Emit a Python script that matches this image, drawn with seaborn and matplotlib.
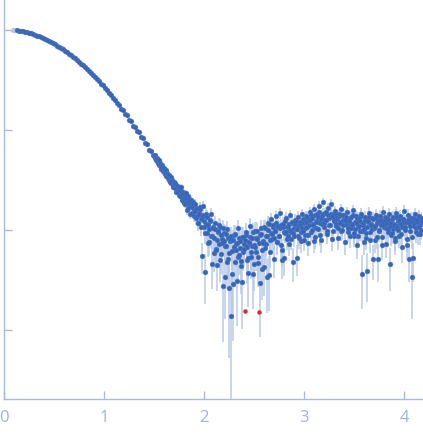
import numpy as np
import pandas as pd
import matplotlib
matplotlib.use("Agg")
import matplotlib.pyplot as plt
import seaborn as sns

# scattering curve, s in nm^-1, intensity stored as log10(I), errors in units of 1e-3

# first points, excluded (drawn pale)
s_excluded = [0.09, 0.11]
log_i_excluded = [0.003, 0.001]

# Guinier / smooth part
s_smooth = [0.13, 0.15, 0.17, 0.19, 0.21, 0.23, 0.25, 0.27, 0.29, 0.31,
            0.33, 0.35, 0.37, 0.39, 0.41, 0.43, 0.45, 0.47, 0.49, 0.51,
            0.53, 0.55, 0.57, 0.59, 0.61, 0.63, 0.65, 0.67, 0.69, 0.71,
            0.73, 0.75, 0.77, 0.79, 0.81, 0.83, 0.85, 0.87, 0.89, 0.91,
            0.93, 0.95, 0.97, 0.99, 1.01, 1.03, 1.05, 1.07, 1.09, 1.11,
            1.13, 1.15, 1.17, 1.19, 1.21, 1.23, 1.25, 1.27, 1.29, 1.31,
            1.33, 1.35, 1.37, 1.39, 1.41, 1.43, 1.45, 1.47, 1.49]
log_i_smooth = [-0.004, -0.006, -0.012, -0.014, -0.021, -0.024, -0.031, -0.035, -0.044, -0.049,
                -0.058, -0.064, -0.074, -0.081, -0.092, -0.100, -0.112, -0.120, -0.133, -0.143,
                -0.157, -0.167, -0.182, -0.193, -0.209, -0.221, -0.238, -0.251, -0.270, -0.283,
                -0.303, -0.316, -0.337, -0.351, -0.374, -0.388, -0.412, -0.427, -0.453, -0.468,
                -0.495, -0.510, -0.539, -0.555, -0.585, -0.600, -0.633, -0.649, -0.682, -0.698,
                -0.735, -0.749, -0.789, -0.801, -0.845, -0.855, -0.898, -0.912, -0.958, -0.970,
                -1.012, -1.024, -1.068, -1.085, -1.128, -1.142, -1.196, -1.208, -1.254]
err_smooth = [0.6, 0.6, 0.6, 0.6, 0.7, 0.7, 0.7, 0.7, 0.7, 0.7,
              0.8, 0.8, 0.8, 0.8, 0.8, 0.8, 0.8, 0.9, 0.9, 0.9,
              0.9, 0.9, 0.9, 0.9, 1.0, 1.0, 1.0, 1.0, 1.0, 1.0,
              1.0, 1.0, 1.1, 1.1, 1.1, 1.1, 1.1, 1.1, 1.1, 1.1,
              1.2, 1.2, 1.2, 1.2, 1.2, 1.2, 1.2, 1.2, 1.2, 1.2,
              1.3, 1.3, 1.3, 1.3, 1.3, 1.3, 1.3, 1.3, 1.3, 1.3,
              1.4, 1.4, 1.4, 1.4, 1.4, 1.4, 1.4, 1.4, 1.4]

# shoulder
s_shoulder = [1.50, 1.51, 1.52, 1.53, 1.54, 1.55, 1.56, 1.57, 1.58, 1.59,
              1.60, 1.61, 1.62, 1.63, 1.64, 1.65, 1.66, 1.67, 1.68, 1.69,
              1.70, 1.71, 1.72, 1.73, 1.74, 1.75, 1.76, 1.77, 1.78, 1.79,
              1.80, 1.81, 1.82, 1.83, 1.84, 1.85, 1.86, 1.87, 1.88, 1.89,
              1.505, 1.515, 1.525, 1.535, 1.545, 1.555, 1.565, 1.575, 1.585, 1.595,
              1.605, 1.615, 1.625, 1.635, 1.645, 1.655, 1.665, 1.675, 1.685, 1.695,
              1.705, 1.715, 1.725, 1.735, 1.745, 1.755, 1.765, 1.775, 1.785, 1.795,
              1.805, 1.815, 1.825, 1.835, 1.845, 1.855, 1.865, 1.875, 1.885, 1.895]
log_i_shoulder = [-1.26, -1.28, -1.29, -1.31, -1.32, -1.35, -1.35, -1.38, -1.37, -1.41,
                  -1.42, -1.41, -1.46, -1.44, -1.47, -1.50, -1.48, -1.53, -1.51, -1.56,
                  -1.54, -1.58, -1.55, -1.62, -1.59, -1.57, -1.66, -1.61, -1.70, -1.64,
                  -1.67, -1.74, -1.63, -1.72, -1.78, -1.69, -1.76, -1.71, -1.83, -1.74,
                  -1.25, -1.30, -1.28, -1.33, -1.30, -1.33, -1.39, -1.35, -1.40, -1.38,
                  -1.44, -1.40, -1.43, -1.48, -1.45, -1.52, -1.47, -1.50, -1.57, -1.52,
                  -1.53, -1.62, -1.56, -1.58, -1.65, -1.60, -1.57, -1.68, -1.62, -1.73,
                  -1.65, -1.69, -1.80, -1.66, -1.73, -1.84, -1.70, -1.77, -1.72, -1.86]
err_shoulder = [1.4, 1.5, 1.4, 1.5, 1.5, 1.4, 1.5, 1.5, 1.6, 1.5,
                1.5, 1.6, 1.5, 1.5, 1.6, 1.6, 1.5, 1.6, 1.6, 1.5,
                1.6, 1.6, 1.7, 1.6, 1.6, 1.7, 1.6, 1.7, 1.6, 1.7,
                1.7, 1.6, 1.7, 1.7, 1.6, 1.7, 1.7, 1.8, 1.7, 1.7,
                1.5, 1.4, 1.5, 1.5, 1.4, 1.5, 1.5, 1.5, 1.6, 1.5,
                1.6, 1.5, 1.6, 1.6, 1.5, 1.6, 1.6, 1.6, 1.5, 1.6,
                1.6, 1.7, 1.6, 1.6, 1.7, 1.6, 1.7, 1.6, 1.7, 1.7,
                1.7, 1.7, 1.6, 1.7, 1.8, 1.7, 1.7, 1.8, 1.7, 1.8]

# noisy tail, first frame
s_tail = [1.90, 1.91, 1.92, 1.93, 1.94, 1.95, 1.96, 1.97, 1.98, 1.99,
          2.00, 2.01, 2.02, 2.03, 2.04, 2.05, 2.06, 2.07, 2.08, 2.09,
          2.10, 2.11, 2.12, 2.13, 2.14, 2.15, 2.16, 2.17, 2.18, 2.19,
          2.20, 2.21, 2.22, 2.23, 2.24, 2.25, 2.26, 2.27, 2.28, 2.29,
          2.30, 2.31, 2.32, 2.33, 2.34, 2.35, 2.36, 2.37, 2.38, 2.39,
          2.40, 2.42, 2.43, 2.44, 2.45, 2.46, 2.47, 2.48, 2.49,
          2.50, 2.51, 2.52, 2.53, 2.54, 2.56, 2.57, 2.58, 2.59,
          2.60, 2.61, 2.62, 2.63, 2.64, 2.65, 2.66, 2.67, 2.68, 2.69,
          2.70, 2.71, 2.72, 2.73, 2.74, 2.75, 2.76, 2.77, 2.78, 2.79,
          2.80, 2.81, 2.82, 2.83, 2.84, 2.85, 2.86, 2.87, 2.88, 2.89,
          2.90, 2.91, 2.92, 2.93, 2.94, 2.95, 2.96, 2.97, 2.98, 2.99,
          3.00, 3.01, 3.02, 3.03, 3.04, 3.05, 3.06, 3.07, 3.08, 3.09,
          3.10, 3.11, 3.12, 3.13, 3.14, 3.15, 3.16, 3.17, 3.18, 3.19,
          3.20, 3.21, 3.22, 3.23, 3.24, 3.25, 3.26, 3.27, 3.28, 3.29,
          3.30, 3.31, 3.32, 3.33, 3.34, 3.35, 3.36, 3.37, 3.38, 3.39,
          3.40, 3.41, 3.42, 3.43, 3.44, 3.45, 3.46, 3.47, 3.48, 3.49,
          3.50, 3.51, 3.52, 3.53, 3.54, 3.55, 3.56, 3.57, 3.58, 3.59,
          3.60, 3.61, 3.62, 3.63, 3.64, 3.65, 3.66, 3.67, 3.68, 3.69,
          3.70, 3.71, 3.72, 3.73, 3.74, 3.75, 3.76, 3.77, 3.78, 3.79,
          3.80, 3.81, 3.82, 3.83, 3.84, 3.85, 3.86, 3.87, 3.88, 3.89,
          3.90, 3.91, 3.92, 3.93, 3.94, 3.95, 3.96, 3.97, 3.98, 3.99,
          4.00, 4.01, 4.02, 4.03, 4.04, 4.05, 4.06, 4.07, 4.08, 4.09,
          4.10, 4.11, 4.12, 4.13, 4.14, 4.15, 4.16, 4.17, 4.18]
log_i_tail = [-1.80, -1.74, -1.88, -1.79, -1.93, -1.84, -1.77, -1.97, -2.26, -1.86,
              -1.91, -2.42, -1.84, -2.03, -1.95, -2.12, -1.90, -2.06, -2.34, -1.98,
              -2.08, -1.93, -2.20, -2.35, -2.01, -2.14, -1.97, -2.24, -2.09, -2.56,
              -2.03, -2.47, -2.16, -1.99, -2.29, -2.58, -2.10, -2.86, -2.21, -2.54,
              -2.05, -2.32, -2.14, -2.51, -1.98, -2.25, -2.11, -2.36, -2.52, -2.07,
              -2.19, -2.02, -2.30, -2.43, -2.12, -1.96, -2.27, -2.08, -2.44,
              -2.15, -2.01, -2.22, -2.09, -2.33, -2.53, -2.04, -2.39, -2.13,
              -1.97, -2.18, -2.06, -2.47, -1.93, -2.45, -2.10, -1.89, -2.04, -1.95,
              -2.29, -2.01, -1.86, -2.12, -1.97, -2.06, -1.83, -2.15, -2.30, -1.94,
              -2.28, -2.03, -1.88, -2.09, -1.96, -2.14, -1.85, -2.02, -1.92, -2.32,
              -2.06, -1.90, -1.99, -2.28, -1.87, -2.08, -1.95, -2.11, -1.84, -2.01,
              -1.93, -2.05, -1.86, -1.97, -2.13, -1.90, -1.82, -2.02, -1.88, -1.95,
              -1.79, -2.07, -1.91, -1.84, -1.99, -1.76, -1.93, -2.10, -1.86, -1.72,
              -1.97, -1.83, -1.90, -2.04, -1.78, -1.88, -1.95, -1.74, -1.86, -2.01,
              -1.89, -1.81, -1.96, -1.87, -2.08, -1.84, -1.93, -1.79, -2.00, -1.90,
              -1.85, -2.12, -1.94, -1.82, -1.98, -1.91, -2.06, -1.87, -1.95, -1.80,
              -2.03, -1.92, -1.86, -2.15, -1.97, -1.89, -2.01, -1.84, -2.44, -1.93,
              -1.99, -1.87, -2.08, -2.41, -1.91, -1.83, -2.02, -1.95, -1.88, -2.29,
              -1.97, -2.10, -1.85, -1.93, -2.29, -2.00, -1.86, -1.95, -2.07, -1.82,
              -1.96, -1.90, -2.14, -1.88, -1.99, -1.84, -2.34, -1.93, -2.03, -1.87,
              -1.95, -2.11, -1.83, -1.98, -1.91, -2.06, -1.86, -1.94, -2.17, -1.89,
              -1.81, -2.00, -1.92, -2.09, -1.85, -2.29, -1.96, -1.88, -2.47, -2.28,
              -1.93, -1.84, -2.02, -1.90, -1.97, -1.86, -2.04, -1.92, -1.88]
err_tail = [1.9, 2.0, 1.9, 2.0, 2.0, 1.9, 2.0, 2.0, 1.9, 2.0,
            2.1, 2.0, 2.1, 2.1, 2.0, 2.1, 2.2, 2.1, 2.0, 2.1,
            2.1, 2.2, 2.1, 2.0, 2.1, 2.1, 2.2, 2.1, 2.1, 2.0,
            2.1, 2.1, 2.2, 2.1, 2.0, 2.1, 2.1, 2.0, 2.2, 2.1,
            2.2, 2.1, 2.1, 2.0, 2.2, 2.1, 2.1, 2.1, 2.0, 2.2,
            2.1, 2.2, 2.1, 2.0, 2.1, 2.2, 2.1, 2.1, 2.0,
            2.1, 2.2, 2.1, 2.1, 2.0, 2.1, 2.2, 2.1, 2.1,
            2.0, 2.0, 2.1, 1.9, 2.0, 2.0, 2.1, 2.0, 2.0, 2.1,
            1.8, 1.9, 1.8, 1.8, 1.9, 1.8, 1.9, 1.8, 1.8, 1.9,
            1.8, 1.9, 1.9, 1.8, 1.9, 1.8, 1.9, 1.9, 1.8, 1.8,
            1.9, 1.8, 1.9, 1.8, 1.9, 1.9, 1.8, 1.9, 1.9, 1.8,
            1.9, 1.9, 1.8, 1.9, 1.9, 1.8, 1.9, 1.9, 2.0, 1.9,
            1.9, 2.0, 1.9, 1.9, 2.0, 1.9, 1.9, 2.0, 1.9, 2.0,
            2.0, 1.9, 2.0, 1.9, 2.0, 2.0, 1.9, 2.0, 1.9, 2.0,
            2.0, 2.0, 1.9, 2.0, 2.0, 1.9, 2.0, 2.0, 2.0, 1.9,
            2.0, 2.0, 2.0, 1.9, 2.0, 2.0, 2.1, 2.0, 2.0, 1.9,
            2.0, 2.1, 2.0, 2.0, 2.0, 2.1, 2.0, 2.0, 2.0, 2.1,
            2.0, 2.1, 2.0, 2.0, 2.1, 2.0, 2.1, 2.0, 2.1, 2.0,
            2.1, 2.0, 2.1, 2.0, 2.1, 2.1, 2.0, 2.1, 2.0, 2.1,
            2.1, 2.1, 2.0, 2.1, 2.1, 2.0, 2.1, 2.1, 2.1, 2.0,
            2.1, 2.1, 2.1, 2.0, 2.1, 2.1, 2.1, 2.0, 2.1, 2.1,
            2.1, 2.1, 2.2, 2.1, 2.1, 2.1, 2.2, 2.1, 2.1, 2.2,
            2.1, 2.2, 2.1, 2.1, 2.2, 2.1, 2.1, 2.2, 2.1]

# noisy tail, in-between points
s_tail_b = [1.905, 1.915, 1.925, 1.935, 1.945, 1.955, 1.965, 1.975, 1.985, 1.995,
            2.005, 2.015, 2.025, 2.035, 2.045, 2.055, 2.065, 2.075, 2.085, 2.095,
            2.105, 2.115, 2.125, 2.135, 2.145, 2.155, 2.165, 2.175, 2.185, 2.195,
            2.205, 2.215, 2.225, 2.235, 2.245, 2.255, 2.265, 2.275, 2.285, 2.295,
            2.305, 2.315, 2.325, 2.335, 2.345, 2.355, 2.365, 2.375, 2.385, 2.395,
            2.405, 2.415, 2.425, 2.435, 2.445, 2.455, 2.465, 2.475, 2.485, 2.495,
            2.505, 2.515, 2.525, 2.535, 2.545, 2.555, 2.565, 2.575, 2.585, 2.595,
            2.605, 2.615, 2.625, 2.635, 2.645, 2.655, 2.665, 2.675, 2.685, 2.695,
            2.705, 2.715, 2.725, 2.735, 2.745, 2.755, 2.765, 2.775, 2.785, 2.795,
            2.805, 2.815, 2.825, 2.835, 2.845, 2.855, 2.865, 2.875, 2.885, 2.895,
            2.905, 2.915, 2.925, 2.935, 2.945, 2.955, 2.965, 2.975, 2.985, 2.995,
            3.005, 3.015, 3.025, 3.035, 3.045, 3.055, 3.065, 3.075, 3.085, 3.095,
            3.105, 3.115, 3.125, 3.135, 3.145, 3.155, 3.165, 3.175, 3.185, 3.195,
            3.205, 3.215, 3.225, 3.235, 3.245, 3.255, 3.265, 3.275, 3.285, 3.295,
            3.305, 3.315, 3.325, 3.335, 3.345, 3.355, 3.365, 3.375, 3.385, 3.395,
            3.405, 3.415, 3.425, 3.435, 3.445, 3.455, 3.465, 3.475, 3.485, 3.495,
            3.505, 3.515, 3.525, 3.535, 3.545, 3.555, 3.565, 3.575, 3.585, 3.595,
            3.605, 3.615, 3.625, 3.635, 3.645, 3.655, 3.665, 3.675, 3.685, 3.695,
            3.705, 3.715, 3.725, 3.735, 3.745, 3.755, 3.765, 3.775, 3.785, 3.795,
            3.805, 3.815, 3.825, 3.835, 3.845, 3.855, 3.865, 3.875, 3.885, 3.895,
            3.905, 3.915, 3.925, 3.935, 3.945, 3.955, 3.965, 3.975, 3.985, 3.995,
            4.005, 4.015, 4.025, 4.035, 4.045, 4.055, 4.065, 4.075, 4.085, 4.095,
            4.105, 4.115, 4.125, 4.135, 4.145, 4.155, 4.165, 4.175]
log_i_tail_b = [-1.81, -1.78, -1.86, -1.93, -1.83, -1.79, -1.89, -1.85, -1.76, -1.97,
                -2.03, -1.94, -1.87, -2.13, -1.99, -1.91, -1.84, -2.06, -1.97, -2.23,
                -1.99, -2.19, -2.10, -2.02, -1.95, -2.30, -2.05, -2.13, -1.98, -2.11,
                -2.16, -2.04, -2.32, -2.08, -2.23, -2.11, -2.06, -2.44, -2.10, -2.17,
                -2.04, -2.20, -2.13, -2.27, -2.08, -2.18, -2.31, -2.07, -2.22, -2.14,
                -2.10, -2.05, -2.17, -2.28, -2.13, -2.07, -2.22, -2.16, -2.02, -2.34,
                -2.17, -2.08, -2.01, -2.27, -2.13, -2.05, -1.98, -2.20, -2.11, -2.37,
                -1.98, -2.14, -2.06, -2.00, -1.94, -2.22, -2.03, -2.09, -1.97, -2.08,
                -2.01, -1.93, -2.12, -1.96, -2.06, -1.98, -1.95, -2.20, -1.97, -2.02,
                -1.91, -2.02, -1.97, -2.06, -1.94, -2.00, -2.09, -1.93, -2.03, -1.98,
                -1.94, -1.91, -1.99, -2.06, -1.96, -1.92, -2.02, -1.98, -1.89, -2.10,
                -1.98, -1.92, -1.87, -2.05, -1.95, -1.90, -1.85, -2.00, -1.94, -2.11,
                -1.85, -1.98, -1.92, -1.87, -1.82, -2.05, -1.89, -1.94, -1.84, -1.93,
                -1.90, -1.82, -2.01, -1.85, -1.95, -1.87, -1.84, -2.09, -1.86, -1.91,
                -1.83, -1.94, -1.89, -1.98, -1.86, -1.92, -2.01, -1.85, -1.95, -1.90,
                -1.90, -1.87, -1.95, -2.02, -1.92, -1.88, -1.98, -1.94, -1.85, -2.06,
                -1.99, -1.93, -1.88, -2.06, -1.96, -1.91, -1.86, -2.01, -1.95, -2.12,
                -1.90, -2.03, -1.97, -1.92, -1.87, -2.10, -1.94, -1.99, -1.89, -1.98,
                -1.96, -1.88, -2.07, -1.91, -2.01, -1.93, -1.90, -2.15, -1.92, -1.97,
                -1.87, -1.98, -1.93, -2.02, -1.90, -1.96, -2.05, -1.89, -1.99, -1.94,
                -2.08, -1.87, -1.96, -2.00, -1.90, -1.94, -2.04, -1.97, -1.89, -1.92,
                -1.97, -1.92, -2.15, -1.90, -1.93, -2.01, -1.91, -2.07, -1.88, -1.96,
                -1.89, -1.98, -1.92, -2.04, -1.87, -1.95, -2.00, -1.91]
err_tail_b = [2.0, 1.9, 2.1, 2.0, 2.0, 1.9, 2.0, 2.1, 2.0, 2.0,
              2.1, 2.0, 2.2, 2.1, 2.1, 2.0, 2.1, 2.2, 2.1, 2.1,
              2.1, 2.0, 2.2, 2.1, 2.1, 2.0, 2.1, 2.2, 2.1, 2.1,
              2.1, 2.0, 2.2, 2.1, 2.1, 2.0, 2.1, 2.2, 2.1, 2.1,
              2.1, 2.0, 2.2, 2.1, 2.1, 2.0, 2.1, 2.2, 2.1, 2.1,
              2.1, 2.0, 2.2, 2.1, 2.1, 2.0, 2.1, 2.2, 2.1, 2.1,
              2.1, 2.0, 2.2, 2.1, 2.1, 2.0, 2.1, 2.2, 2.1, 2.1,
              2.0, 1.9, 2.1, 2.0, 2.0, 1.9, 2.0, 2.1, 2.0, 2.0,
              1.8, 1.7, 1.9, 1.8, 1.8, 1.7, 1.8, 1.9, 1.8, 1.8,
              1.8, 1.7, 1.9, 1.8, 1.8, 1.7, 1.8, 1.9, 1.8, 1.8,
              1.8, 1.7, 1.9, 1.8, 1.8, 1.7, 1.8, 1.9, 1.8, 1.8,
              1.9, 2.0, 1.9, 2.0, 1.9, 2.0, 2.0, 1.9, 2.0, 1.9,
              1.9, 2.0, 1.9, 2.0, 1.9, 2.0, 2.0, 1.9, 2.0, 1.9,
              1.9, 2.0, 1.9, 2.0, 1.9, 2.0, 2.0, 1.9, 2.0, 1.9,
              1.9, 2.0, 1.9, 2.0, 1.9, 2.0, 2.0, 1.9, 2.0, 1.9,
              1.9, 2.0, 1.9, 2.0, 1.9, 2.0, 2.0, 1.9, 2.0, 1.9,
              2.0, 2.1, 2.1, 2.0, 2.1, 2.1, 2.0, 2.1, 2.1, 2.0,
              2.0, 2.1, 2.1, 2.0, 2.1, 2.1, 2.0, 2.1, 2.1, 2.0,
              2.0, 2.1, 2.1, 2.0, 2.1, 2.1, 2.0, 2.1, 2.1, 2.0,
              2.0, 2.1, 2.1, 2.0, 2.1, 2.1, 2.0, 2.1, 2.1, 2.0,
              2.0, 2.1, 2.1, 2.0, 2.1, 2.1, 2.0, 2.1, 2.1, 2.0,
              2.0, 2.1, 2.1, 2.0, 2.1, 2.1, 2.0, 2.1, 2.1, 2.0,
              2.1, 2.1, 2.2, 2.1, 2.1, 2.2, 2.1, 2.1]

# rejected outliers (red)
s_rejected = [2.41, 2.55]
log_i_rejected = [-2.81, -2.82]

point_color = "#3864b6"
bar_color = "#b9cbe8"
axis_color = "#a9bbdd"

df = pd.DataFrame({
    "s": s_smooth + s_shoulder + s_tail + s_tail_b,
    "log_i": log_i_smooth + log_i_shoulder + log_i_tail + log_i_tail_b,
    "err": err_smooth + err_shoulder + err_tail + err_tail_b,
})
df = df.sort_values("s")
df["intensity"] = 10 ** df["log_i"]
df["sigma"] = df["err"] / 1000.0

excl = pd.DataFrame({"s": s_excluded, "intensity": 10 ** np.array(log_i_excluded)})
rej = pd.DataFrame({"s": s_rejected, "intensity": 10 ** np.array(log_i_rejected)})

sns.set_theme(style="white")
plt.rcParams["font.family"] = ["Open Sans", "DejaVu Sans"]

fig = plt.figure(figsize=(4.23, 4.37), dpi=100)
ax = fig.add_axes([4 / 423, 38 / 437, 418 / 423, 399 / 437])
ax.set_yscale("log")

ax.errorbar(df["s"], df["intensity"], yerr=df["sigma"], fmt="none",
            ecolor=bar_color, elinewidth=1.1, zorder=1)
sns.scatterplot(data=excl, x="s", y="intensity", ax=ax, s=12, color="#b7c5e3",
                edgecolor="#b7c5e3", linewidth=0.3, zorder=2)
sns.scatterplot(data=df, x="s", y="intensity", ax=ax, s=12, color=point_color,
                edgecolor="#4a78c4", linewidth=0.3, zorder=3)
sns.scatterplot(data=rej, x="s", y="intensity", ax=ax, s=8, color="#e3242b",
                edgecolor="#e3242b", linewidth=0.3, zorder=3)

ax.set_xlim(0, 4.18)
ax.set_ylim(10 ** -3.69, 10 ** 0.30)
ax.set_xticks([0, 1, 2, 3, 4])
ax.set_xticklabels(["0", "1", "2", "3", "4"])
ax.set_yticks([1, 0.1, 0.01, 0.001])
ax.yaxis.set_minor_locator(matplotlib.ticker.NullLocator())
ax.set_yticklabels([])
ax.set_xlabel("")
ax.set_ylabel("")

sns.despine(ax=ax)
for side in ["left", "bottom"]:
    ax.spines[side].set_color(axis_color)
    ax.spines[side].set_linewidth(1)
ax.tick_params(axis="both", which="major", direction="in", length=6, width=1,
               color=axis_color, labelcolor="#a3b3d6", labelsize=12, pad=8)
ax.tick_params(axis="y", left=True)
ax.tick_params(axis="x", bottom=True)

fig.savefig("out.png", dpi=100)
